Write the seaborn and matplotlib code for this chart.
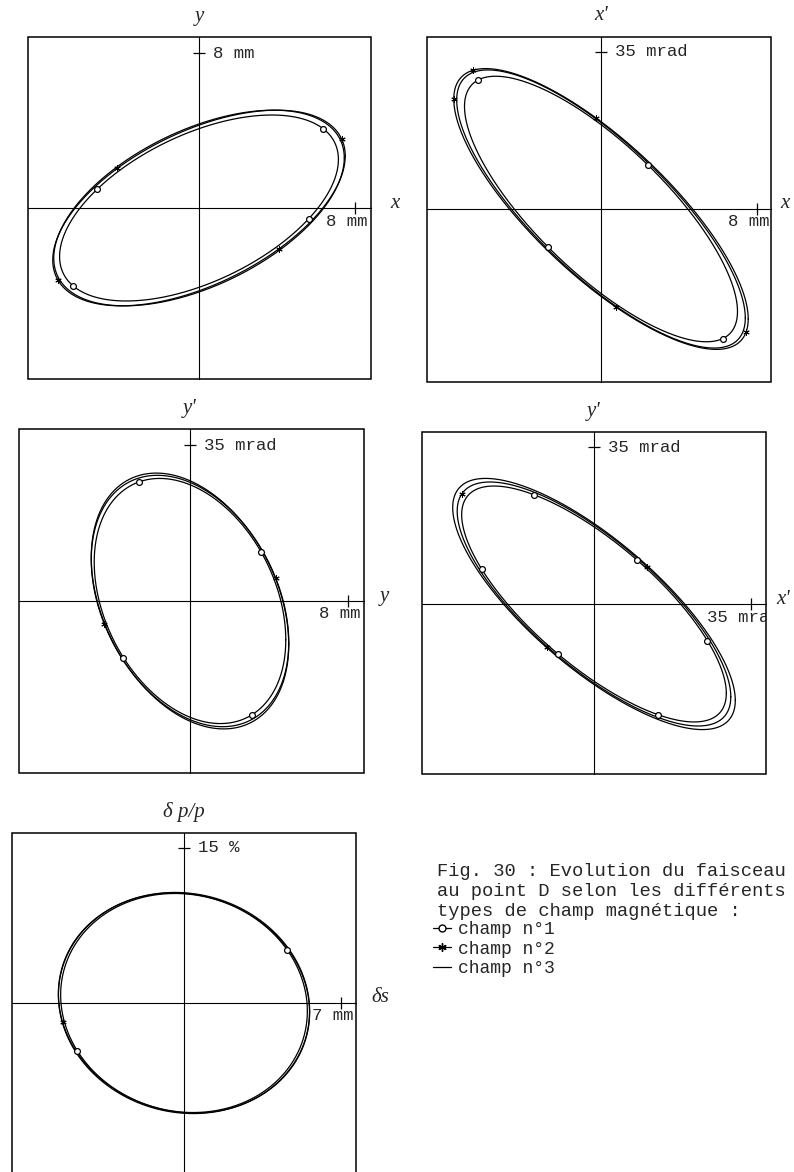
import numpy as np
import matplotlib
matplotlib.use("Agg")
import matplotlib.pyplot as plt
from matplotlib.lines import Line2D
from matplotlib.patches import Rectangle
import seaborn as sns

sns.set_style("white")
plt.rcParams["font.family"] = ["Liberation Mono", "DejaVu Sans Mono"]

W_PX, H_PX = 794, 1172

# Phase-space planes shown in the five panels
x_names = ["x", "x", "y", "x'", "δs"]
y_names = ["y", "x'", "y'", "y'", "δ p/p"]
x_ticks = [8, 8, 8, 35, 7]
y_ticks = [8, 35, 35, 35, 15]
x_tick_labels = ["8 mm", "8 mm", "8 mm", "35 mrad", "7 mm"]
y_tick_labels = ["8 mm", "35 mrad", "35 mrad", "35 mrad", "15 %"]
correlation = [1, -1, -1, -1, -1]

# Beam ellipse of each field type: half-width (max horizontal value),
# half-height (max vertical value) and crossing of the horizontal axis
champ1_width = [7.15, 7.0, 4.85, 29.5, 5.5]
champ1_height = [4.8, 29.6, 27.5, 26.3, 10.6]
champ1_cross = [6.1, 4.45, 4.6, 19.3, 5.485]

champ2_width = [7.5, 7.55, 5.0, 30.5, 5.6]
champ2_height = [5.05, 31.3, 28.2, 27.2, 10.65]
champ2_cross = [6.35, 4.7, 4.72, 19.8, 5.58]

champ3_width = [7.45, 7.4, 5.0, 31.5, 5.6]
champ3_height = [5.05, 31.0, 28.7, 28.0, 10.7]
champ3_cross = [6.4, 4.6, 4.7, 20.2, 5.585]

# Phase (degrees) of the particles marked on the ellipses
champ1_marks = [[-137, -27, 38, 155], [-154, -70, 113, 27],
                [-122, -42, 134, 50], [-117, -71, 148, 106, -31, 61],
                [-33, 150]]
champ2_marks = [[-124, 57, -13, 165], [180, -92, 84, 10, -150],
                [-30, 150], [-165, -67, 110], [165]]

# Panel frames in pixels (left, top, right, bottom), axis origin and tick positions
frames_px = [(28, 37, 371, 379), (427, 37, 771, 382), (19, 429, 364, 773),
             (422, 432, 766, 774), (12, 833, 356, 1177)]
origin_px = [(199, 208), (601, 209), (190, 601), (594, 604), (184, 1003)]
xtick_px = [355, 757, 348, 751, 341]
ytick_px = [53, 52, 445, 447, 848]
side_label_gap = [24, 14, 20, 17, 24]


def ellipse(a, b, xc, sign, t_deg):
    phi = np.arcsin(min(xc / a, 1.0))
    if sign < 0:
        phi = np.pi - phi
    t = np.radians(np.asarray(t_deg, dtype=float))
    return a * np.cos(t), b * np.cos(t + phi)


fig = plt.figure(figsize=(W_PX / 100, H_PX / 100), dpi=100)
phase = np.linspace(0, 360, 721)

for i in range(5):
    L, T, R, B = frames_px[i]
    cx, cy = origin_px[i]
    ax = fig.add_axes([L / W_PX, 1 - B / H_PX, (R - L) / W_PX, (B - T) / H_PX])
    sx = (xtick_px[i] - cx) / x_ticks[i]
    sy = (cy - ytick_px[i]) / y_ticks[i]
    ax.set_xlim((L - cx) / sx, (R - cx) / sx)
    ax.set_ylim((cy - B) / sy, (cy - T) / sy)

    # axis cross through the origin, frame drawn separately
    for side in ["top", "right"]:
        ax.spines[side].set_visible(False)
    for side in ["left", "bottom"]:
        ax.spines[side].set_position(("data", 0))
        ax.spines[side].set_linewidth(0.8)
        ax.spines[side].set_color("black")
    ax.add_patch(Rectangle((0, 0), 1, 1, transform=ax.transAxes, fill=False,
                           lw=1.1, ec="black", clip_on=False, zorder=5))
    ax.set_xticks([x_ticks[i]])
    ax.set_yticks([y_ticks[i]])
    ax.tick_params(direction="inout", length=9, width=0.9, color="black",
                   bottom=True, left=True, labelbottom=False, labelleft=False)

    widths = [champ1_width[i], champ2_width[i], champ3_width[i]]
    heights = [champ1_height[i], champ2_height[i], champ3_height[i]]
    crosses = [champ1_cross[i], champ2_cross[i], champ3_cross[i]]
    for a, b, xc in zip(widths, heights, crosses):
        xs, ys = ellipse(a, b, xc, correlation[i], phase)
        sns.lineplot(x=xs, y=ys, sort=False, estimator=None, color="black",
                     linewidth=0.9, ax=ax, legend=False)

    mx, my = ellipse(champ1_width[i], champ1_height[i], champ1_cross[i],
                     correlation[i], champ1_marks[i])
    ax.plot(mx, my, ls="none", marker="o", mfc="white", mec="black",
            mew=0.9, ms=4.2, zorder=4)
    mx, my = ellipse(champ2_width[i], champ2_height[i], champ2_cross[i],
                     correlation[i], champ2_marks[i])
    ax.plot(mx, my, ls="none", marker=(6, 2, 0), color="black",
            mew=0.7, ms=4.5, zorder=4)

    # tick values written beside the ticks
    ax.annotate(x_tick_labels[i], xy=(x_ticks[i], 0), xytext=(-8, -13),
                textcoords="offset pixels", ha="center", va="center",
                fontsize=12.5, annotation_clip=False, clip_on=True)
    ax.annotate(y_tick_labels[i], xy=(0, y_ticks[i]), xytext=(14, 0),
                textcoords="offset pixels", ha="left", va="center",
                fontsize=12.5, clip_on=True)

    # coordinate names
    fig.text(cx / W_PX, 1 - (T - 21) / H_PX, y_names[i], ha="center",
             va="center", family="Liberation Serif", style="italic",
             fontsize=15)
    fig.text((R + side_label_gap[i]) / W_PX, 1 - (cy - 5) / H_PX,
             x_names[i], ha="center", va="center", family="Liberation Serif",
             style="italic", fontsize=15)

caption = ["Fig. 30 : Evolution du faisceau",
           "au point D selon les différents",
           "types de champ magnétique :"]
for k, line in enumerate(caption):
    fig.text(437 / W_PX, 1 - (872 + 19.5 * k) / H_PX, line, ha="left",
             va="center", fontsize=13.5)

handles = [
    Line2D([], [], color="black", lw=0.9, marker="o", mfc="white",
           mec="black", ms=5),
    Line2D([], [], color="black", lw=0.9, marker=(6, 2, 0), ms=6),
    Line2D([], [], color="black", lw=0.9),
]
fig.legend(handles, ["champ n°1", "champ n°2", "champ n°3"],
           loc="upper left", bbox_to_anchor=(433 / W_PX, 1 - 921 / H_PX),
           frameon=False, prop={"family": "Liberation Mono", "size": 13},
           handlelength=1.0, handletextpad=0.4, labelspacing=0.14,
           borderpad=0, borderaxespad=0)

fig.savefig("out.png", dpi=100, facecolor="white")
